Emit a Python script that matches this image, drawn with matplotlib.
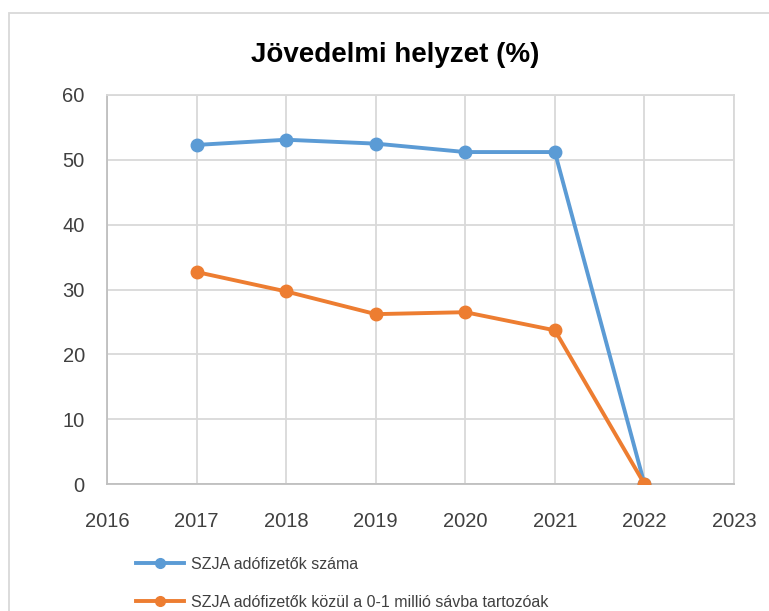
import matplotlib.pyplot as plt
from matplotlib.patches import Rectangle
from matplotlib.lines import Line2D

years = [2017, 2018, 2019, 2020, 2021, 2022]
szja_total = [52.3, 53.1, 52.5, 51.2, 51.2, 0]
szja_low_band = [32.7, 29.7, 26.2, 26.5, 23.7, 0]
labels = ["SZJA adófizetők száma", "SZJA adófizetők közül a 0-1 millió sávba tartozóak"]

plt.rcParams['font.family'] = ['Liberation Sans', 'DejaVu Sans']

fig = plt.figure(figsize=(7.69, 6.11), dpi=100)
ax = fig.add_axes([107 / 769, 1 - 484 / 611, (734 - 107) / 769, (484 - 95) / 611])

blue = "#5B9BD5"
orange = "#ED7D31"
ax.plot(years, szja_total, color=blue, lw=2.8, marker="o", ms=9, zorder=3)
ax.plot(years, szja_low_band, color=orange, lw=2.8, marker="o", ms=9, zorder=4)

ax.set_xlim(2016, 2023)
ax.set_ylim(0, 60)
ax.set_xticks(range(2016, 2024))
ax.set_yticks(range(0, 61, 10))
ax.grid(True, color="#D9D9D9", lw=1.3)
ax.set_axisbelow(True)
for side in ["top", "right"]:
    ax.spines[side].set_color("#D9D9D9")
    ax.spines[side].set_linewidth(1.3)
for side in ["left", "bottom"]:
    ax.spines[side].set_color("#BFBFBF")
    ax.spines[side].set_linewidth(1.3)
ax.tick_params(length=0, labelsize=14.5, colors="#404040")
ax.tick_params(axis="x", pad=20)
ax.tick_params(axis="y", pad=16)

fig.text(395 / 769, 1 - 55 / 611, "Jövedelmi helyzet (%)", ha="center", va="center",
         fontsize=20, fontweight="bold", color="#000000")

handles = [Line2D([], [], color=blue, lw=2.8, marker="o", ms=7),
           Line2D([], [], color=orange, lw=2.8, marker="o", ms=7)]
leg = fig.legend(handles, labels, loc="lower left", bbox_to_anchor=(126 / 769, -0.014),
                 frameon=False, fontsize=11.5, handlelength=3.0, labelspacing=1.45,
                 handletextpad=0.5, borderaxespad=0.2)
for t in leg.get_texts():
    t.set_color("#404040")

fig.patches.append(Rectangle((9 / 769, -0.1), 1.2, 1 - 13 / 611 + 0.1, transform=fig.transFigure,
                             fill=False, edgecolor="#D9D9D9", lw=1.3))

fig.savefig("out.png", dpi=100)
